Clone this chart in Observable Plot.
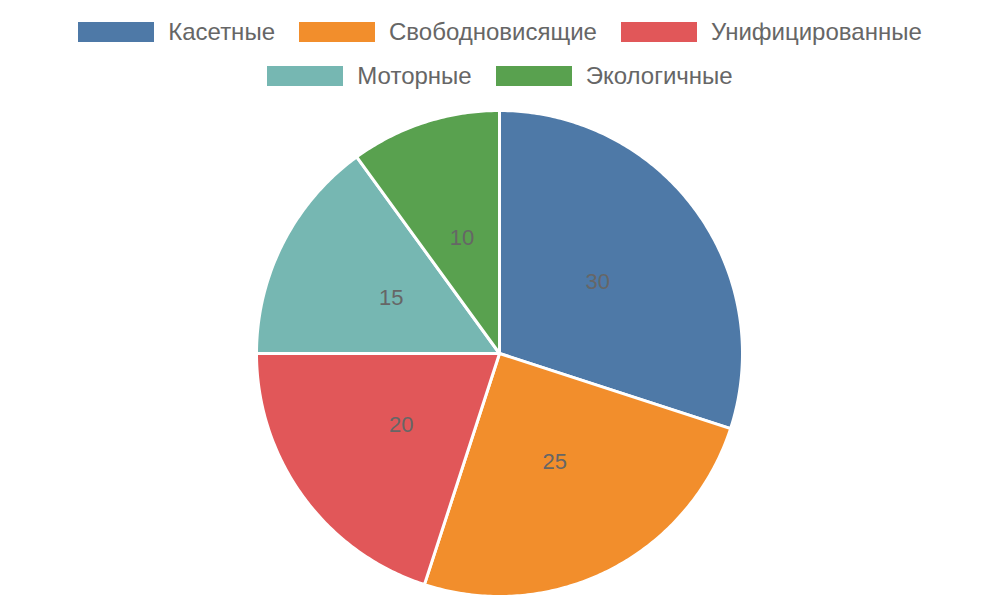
<!DOCTYPE html>
<html><head><meta charset="utf-8">
<script src="https://cdn.jsdelivr.net/npm/d3@7"></script>
<script src="https://cdn.jsdelivr.net/npm/@observablehq/plot@0.6"></script>
<style>
html,body{margin:0;padding:0;background:#fff;width:1000px;height:600px;overflow:hidden;font-family:"Liberation Sans",Arial,sans-serif;}
#legend{display:flex;flex-wrap:wrap;justify-content:center;width:900px;margin:0 auto;padding-top:21px;row-gap:23px;column-gap:24px;height:100px;box-sizing:border-box;align-content:flex-start;}
.item{display:flex;align-items:center;height:21px;}
.sw{width:76px;height:20px;margin-right:14px;}
.lab{font-size:24px;color:#666;line-height:21px;}
#chart{height:500px;}
</style></head>
<body><div id="legend"></div><div id="chart"></div>
<script>
const categories = ["Касетные","Свободновисящие","Унифицированные","Моторные","Экологичные"];
const values = [30, 25, 20, 15, 10];
const colors = ["#4e79a7","#f28e2c","#e15759","#76b7b2","#59a14f"];

// legend
const leg = document.getElementById("legend");
categories.forEach((c,i)=>{
  const it=document.createElement("div");it.className="item";
  const sw=document.createElement("div");sw.className="sw";sw.style.background=colors[i];
  const lb=document.createElement("span");lb.className="lab";lb.textContent=c;
  it.appendChild(sw);it.appendChild(lb);leg.appendChild(it);
});

const arcs = d3.pie().sort(null).startAngle(0).endAngle(2*Math.PI)(values);
const polys = [];
const labels = [];
arcs.forEach((a,i)=>{
  const name = categories[i];
  polys.push({name, x:0, y:0});
  const n = Math.max(2, Math.ceil((a.endAngle-a.startAngle)*90));
  for(let k=0;k<=n;k++){
    const t = a.startAngle + (a.endAngle-a.startAngle)*k/n;
    polys.push({name, x:Math.sin(t), y:Math.cos(t)});
  }
  polys.push({name, x:0, y:0});
  const m=(a.startAngle+a.endAngle)/2;
  labels.push({name, value:values[i], x:0.5*Math.sin(m), y:0.5*Math.cos(m)});
});

const R = 243, W = 1000, H = 500, cx = 499, cy = 253;
const chart = Plot.plot({
  width: W, height: H, margin: 0,
  x: {domain: [-cx/R, (W-cx)/R], axis: null},
  y: {domain: [-(H-cy)/R, cy/R], axis: null},
  color: {domain: categories, range: colors},
  style: {fontFamily: '"Liberation Sans", Arial, sans-serif', background: "#fff"},
  marks: [
    Plot.line(polys, {x:"x", y:"y", z:"name", fill:"name", stroke:"#fff", strokeWidth:3, strokeLinejoin:"round"}),
    Plot.text(labels, {x:"x", y:"y", text:d=>String(d.value), fill:"#666", fontSize:22})
  ]
});
document.getElementById("chart").appendChild(chart);
</script></body></html>
